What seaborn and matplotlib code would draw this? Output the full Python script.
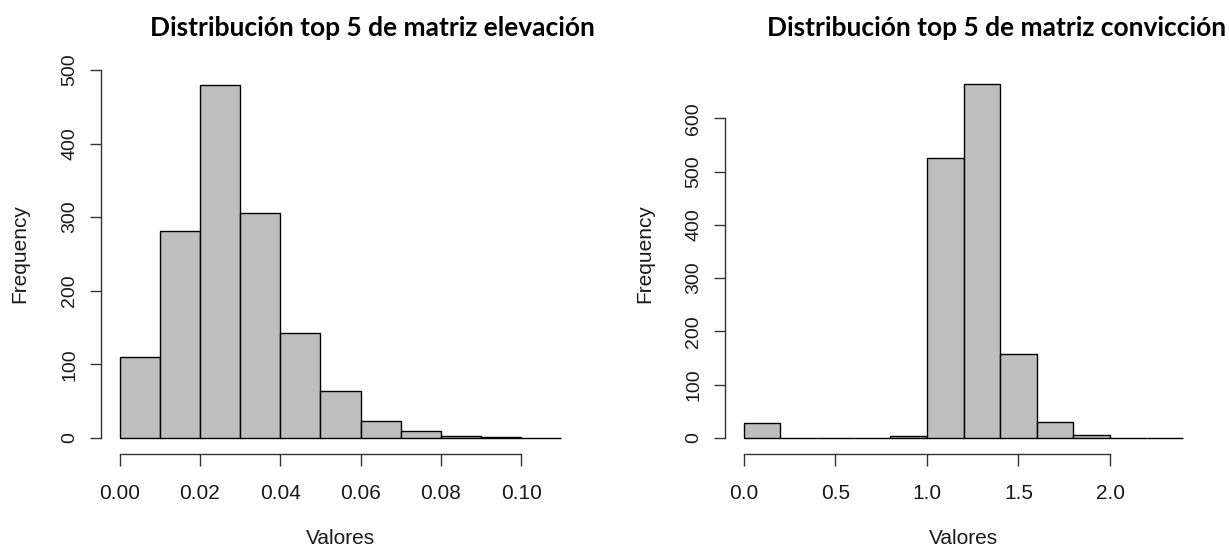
import numpy as np
import pandas as pd
import matplotlib
matplotlib.use("Agg")
import matplotlib.pyplot as plt
import seaborn as sns

# ---- data (bin breaks and counts) ----
elev_breaks = [0.00, 0.01, 0.02, 0.03, 0.04, 0.05, 0.06, 0.07, 0.08, 0.09, 0.10, 0.11]
elev_counts = [110, 281, 480, 305, 142, 64, 23, 10, 3, 1, 0]
elev_xticks = [0.00, 0.02, 0.04, 0.06, 0.08, 0.10]
elev_xlabels = ["0.00", "0.02", "0.04", "0.06", "0.08", "0.10"]
elev_yticks = [0, 100, 200, 300, 400, 500]

conv_breaks = [0.0, 0.2, 0.4, 0.6, 0.8, 1.0, 1.2, 1.4, 1.6, 1.8, 2.0, 2.2, 2.4]
conv_counts = [28, 0, 0, 0, 4, 526, 664, 157, 30, 6, 0, 0]
conv_xticks = [0.0, 0.5, 1.0, 1.5, 2.0]
conv_xlabels = ["0.0", "0.5", "1.0", "1.5", "2.0"]
conv_yticks = [0, 100, 200, 300, 400, 500, 600]

titles = ["Distribución top 5 de matriz elevación",
          "Distribución top 5 de matriz convicción"]
xlabel = "Valores"
ylabel = "Frequency"

sns.set_style("white")
plt.rcParams["font.family"] = ["Liberation Sans", "DejaVu Sans"]

W, H = 1229, 550
fig = plt.figure(figsize=(W / 100, H / 100), dpi=100)

txt = "#1a1a1a"

def px(x0, y0, x1, y1):
    return [x0 / W, 1 - y1 / H, (x1 - x0) / W, (y1 - y0) / H]

def panel(rect, breaks, counts, xticks, xlabels, yticks, ylab_x):
    ax = fig.add_axes(rect)
    b = np.array(breaks)
    mids = (b[:-1] + b[1:]) / 2
    df = pd.DataFrame({"x": mids, "w": counts})
    sns.histplot(data=df, x="x", weights="w", bins=breaks, ax=ax,
                 color="#bebebe", edgecolor="black", linewidth=1.0,
                 alpha=1.0, stat="count")
    span = b[-1] - b[0]
    ax.set_xlim(b[0] - 0.04 * span, b[-1] + 0.04 * span)
    top = max(counts)
    ax.set_ylim(-0.04 * top, top * 1.04)
    for s in ["top", "right"]:
        ax.spines[s].set_visible(False)
    ax.spines["left"].set_bounds(yticks[0], yticks[-1])
    ax.spines["bottom"].set_bounds(xticks[0], xticks[-1])
    ax.spines["bottom"].set_position(("outward", 1.5))
    ax.spines["left"].set_position(("outward", 1))
    for s in ["left", "bottom"]:
        ax.spines[s].set_color("#333333")
        ax.spines[s].set_linewidth(1.0)
    ax.set_xticks(xticks)
    ax.set_xticklabels(xlabels)
    ax.set_yticks(yticks)
    ax.set_yticklabels([str(v) for v in yticks], rotation=90, va="center")
    ax.tick_params(axis="x", bottom=True, direction="out", length=8.5, width=1.0,
                   color="#333333", labelsize=15, labelcolor=txt, pad=13)
    ax.tick_params(axis="y", left=True, direction="out", length=8, width=1.0,
                   color="#333333", labelsize=14, labelcolor=txt, pad=8)
    ax.set_xlabel(xlabel, fontsize=15, color=txt, labelpad=19)
    ax.set_ylabel("")
    ax.grid(False)
    fig.text(ylab_x / W, 1 - 254 / H, ylabel, rotation=90, fontsize=15,
             color=txt, ha="center", va="center")
    return ax

ax1 = panel(px(102, 70, 579, 452), elev_breaks, elev_counts,
            elev_xticks, elev_xlabels, elev_yticks, 20)
ax2 = panel(px(726, 70, 1201, 452), conv_breaks, conv_counts,
            conv_xticks, conv_xlabels, conv_yticks, 645)

fig.text(372 / W, 1 - 28 / H, titles[0], fontsize=19, fontweight="bold",
         family=["Lato", "DejaVu Sans"], ha="center", va="center", color="black")
fig.text(997 / W, 1 - 28 / H, titles[1], fontsize=19, fontweight="bold",
         family=["Lato", "DejaVu Sans"], ha="center", va="center", color="black")

fig.savefig("out.png", dpi=100, facecolor="white")
